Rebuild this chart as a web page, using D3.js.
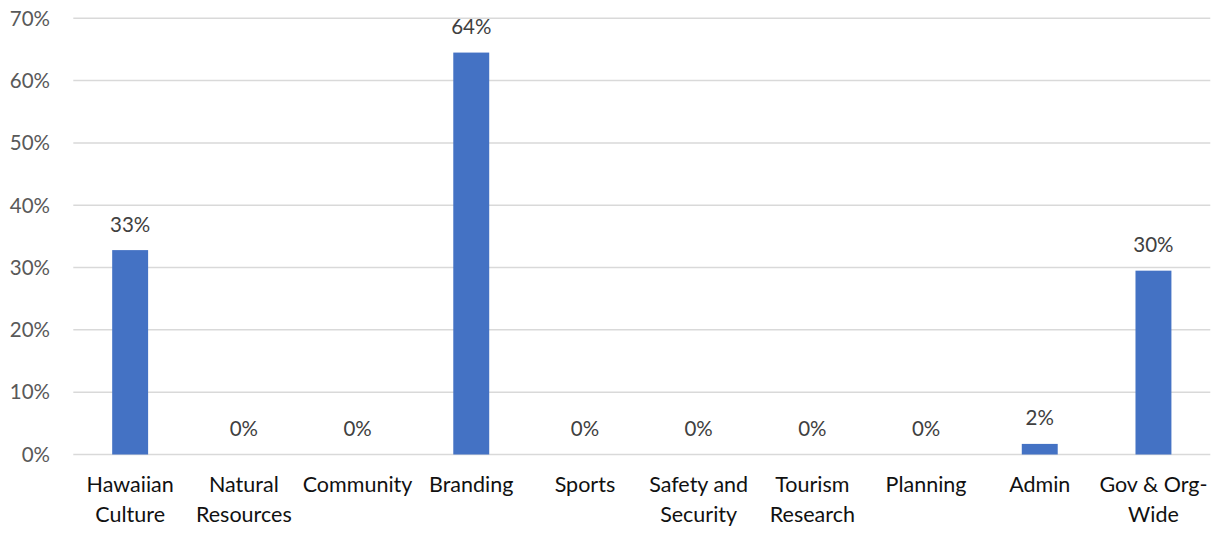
<!DOCTYPE html>
<html>
<head>
<meta charset="utf-8">
<script src="https://cdn.jsdelivr.net/npm/d3@7"></script>
<style>
  html, body { margin: 0; padding: 0; background: #fff; }
  svg { display: block; font-family: Lato, "Open Sans", sans-serif; }
</style>
</head>
<body>
<svg id="chart" width="1222" height="543"></svg>
<script>
// Share of spending by program area
const categories = ["Hawaiian Culture", "Natural Resources", "Community", "Branding", "Sports",
  "Safety and Security", "Tourism Research", "Planning", "Admin", "Gov & Org-Wide"];
const categoryLines = [["Hawaiian", "Culture"], ["Natural", "Resources"], ["Community"], ["Branding"], ["Sports"],
  ["Safety and", "Security"], ["Tourism", "Research"], ["Planning"], ["Admin"], ["Gov & Org-", "Wide"]];
const shares = [0.328, 0, 0, 0.645, 0, 0, 0, 0, 0.017, 0.295];
const valueLabels = ["33%", "0%", "0%", "64%", "0%", "0%", "0%", "0%", "2%", "30%"];
const yTicks = [0, 0.1, 0.2, 0.3, 0.4, 0.5, 0.6, 0.7];

const svg = d3.select("#chart");
const plotLeft = 73.3, plotRight = 1210.3, plotTop = 18.3, plotBottom = 454.5;

const x = d3.scaleBand().domain(categories).range([plotLeft, plotRight]).paddingInner(0.684).paddingOuter(0.342);
const y = d3.scaleLinear().domain([0, 0.7]).range([plotBottom, plotTop]);

// Gridlines (the 0% line doubles as the category axis)
svg.append("g")
  .selectAll("line")
  .data(yTicks)
  .join("line")
  .attr("x1", plotLeft).attr("x2", plotRight)
  .attr("y1", d => y(d)).attr("y2", d => y(d))
  .attr("stroke", "#d9d9d9")
  .attr("stroke-width", 1.5);

// Y tick labels
svg.append("g")
  .selectAll("text")
  .data(yTicks)
  .join("text")
  .attr("x", 50)
  .attr("y", d => y(d) + 7.3)
  .attr("text-anchor", "end")
  .attr("font-size", 20.5)
  .attr("fill", "#595959")
  .text(d3.format(".0%"));

// Bars
svg.append("g")
  .selectAll("rect")
  .data(categories)
  .join("rect")
  .attr("x", d => x(d))
  .attr("width", x.bandwidth())
  .attr("y", (d, i) => y(shares[i]))
  .attr("height", (d, i) => y(0) - y(shares[i]))
  .attr("fill", "#4472c4");

// Value labels above bars
svg.append("g")
  .selectAll("text")
  .data(categories)
  .join("text")
  .attr("x", d => x(d) + x.bandwidth() / 2)
  .attr("y", (d, i) => y(shares[i]) - 18.5)
  .attr("text-anchor", "middle")
  .attr("font-size", 20.5)
  .attr("fill", "#404040")
  .text((d, i) => valueLabels[i]);

// Category labels
const cat = svg.append("g")
  .selectAll("text")
  .data(categories)
  .join("text")
  .attr("x", d => x(d) + x.bandwidth() / 2)
  .attr("y", 492)
  .attr("text-anchor", "middle")
  .attr("font-size", 21.5)
  .attr("fill", "#111");
cat.selectAll("tspan")
  .data((d, i) => categoryLines[i])
  .join("tspan")
  .attr("x", function () { return d3.select(this.parentNode).attr("x"); })
  .attr("dy", (d, j) => j === 0 ? 0 : 29.7)
  .text(d => d);
</script>
</body>
</html>
